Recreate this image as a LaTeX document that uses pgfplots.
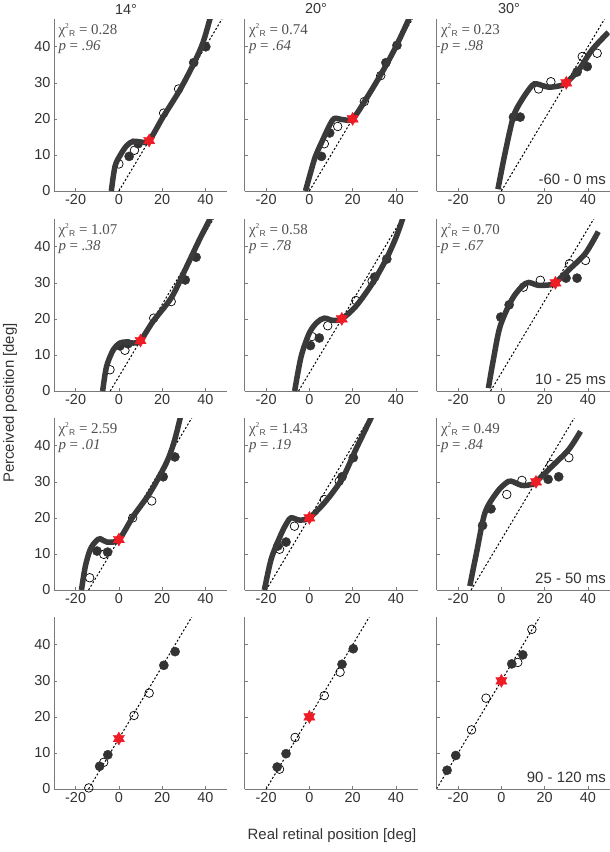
\documentclass[border=0pt]{standalone}
\usepackage{fontspec}
\setmainfont{Liberation Sans}
\setsansfont{Liberation Sans}
\newfontfamily\serif{Liberation Serif}
\usepackage{pgfplots}
\pgfplotsset{compat=1.18}
\definecolor{curvec}{HTML}{3A3A3A}
\definecolor{ptc}{HTML}{333333}
\definecolor{axgray}{HTML}{7A7A7A}
\definecolor{txt}{HTML}{333333}
\definecolor{statc}{HTML}{505050}
\definecolor{starred}{HTML}{EE1C25}
\pgfplotsset{
  panel/.style={
    width=173bp, height=172bp, scale only axis,
    xmin=-30, xmax=50, ymin=0, ymax=47.7,
    axis x line*=bottom, axis y line*=left,
    axis line style={-, axgray, line width=0.8bp},
    tick align=inside, major tick length=3bp,
    tick style={axgray, line width=0.6bp},
    xtick={-20,0,20,40}, xticklabels={-20,0,20,40},
    ytick={0,10,20,30,40},
    tick label style={font=\fontsize{14.5}{14.5}\selectfont, text=txt},
    clip mode=individual,
    anchor=north west,
  },
  lefty/.style={yticklabels={0,10,20,30,40}},
  noy/.style={yticklabels={}},
  curv/.style={curvec, line width=5.5bp, smooth, no markers},
  idl/.style={black, line width=1bp, dash pattern=on 2bp off 2bp, no markers},
  opn/.style={only marks, mark=o, mark size=4.3bp, mark options={black, line width=0.7bp}},
  fld/.style={only marks, mark=*, mark size=4.6bp, mark options={ptc, fill=ptc}},
}
\newcommand{\stats}[2]{%
  \node[anchor=north west, inner sep=0pt, text=statc,
    font=\serif\fontsize{15}{15}\selectfont] (s1) at (rel axis cs:0.025,0.975)
    {χ\raisebox{0.85ex}{\fontsize{7.5}{7.5}\selectfont 2}\kern0.3bp\raisebox{-0.35ex}{\sffamily\fontsize{8.5}{8.5}\selectfont R} = #1};
  \node[anchor=north west, inner sep=0pt, text=statc,
    font=\serif\fontsize{15}{15}\selectfont] at ([yshift=-3bp]s1.south west)
    {\textit{p} = \textit{#2}};}
\newcommand{\ms}[1]{\node[anchor=base east, inner sep=0pt, text=txt,
  font=\fontsize{15}{15}\selectfont] at (rel axis cs:0.98,0.035) {#1};}
\newcommand{\starmark}[2]{%
  \addplot[only marks, mark=triangle*, mark size=6.5bp, mark options={starred, fill=starred}] coordinates {(#1,#2)};
  \addplot[only marks, mark=triangle*, mark size=6.5bp, mark options={starred, fill=starred, rotate=180}] coordinates {(#1,#2)};}
\begin{document}
\begin{tikzpicture}
\useasboundingbox (0,0) rectangle (610bp,-852bp);
% ---------- Row 1 ----------
\begin{axis}[panel, lefty, at={(54bp,-19bp)}]
\addplot[idl] coordinates {(0,0) (47.7,47.7)};
\addplot[opn] coordinates {(0,7.5) (7.2,11.3) (20.7,21.6) (27.6,28.3)};
\addplot[fld] coordinates {(4.75,9.6) (8.9,13.1) (34.6,35.6) (40.2,40)};
\addplot[curv] coordinates {(-3.5,0) (-1.8,6.8) (0.5,9.8) (3.5,12.5) (6.6,13.8) (10,13.6) (14,14) (20.4,20.5) (28,27.8) (34.6,35.3) (38.8,41) (42.1,47.7) (42.8,49.5)};
\starmark{14}{14}
\stats{0.28}{.96}
\end{axis}
\begin{axis}[panel, noy, at={(244.5bp,-19bp)}]
\addplot[idl] coordinates {(0,0) (47.7,47.7)};
\addplot[opn] coordinates {(6.9,13.1) (13.1,17.9) (25.4,24.8) (33,32)};
\addplot[fld] coordinates {(5.6,9.6) (9.4,16.1) (35.4,35.6) (40.5,40.4)};
\addplot[curv] coordinates {(-1.8,0) (0.5,5) (2.8,9.6) (6.2,14.2) (9,17.8) (11.5,20.1) (15.4,19.8) (20,20) (26,25.3) (33.8,33.1) (40,40) (46,47.7) (47,49.5)};
\starmark{20}{20}
\stats{0.74}{.64}
\end{axis}
\begin{axis}[panel, noy, at={(436.5bp,-19bp)}]
\addplot[idl] coordinates {(0,0) (47.7,47.7)};
\addplot[opn] coordinates {(17.2,28.3) (22.9,30.3) (37.4,37.3) (44.3,38.2)};
\addplot[fld] coordinates {(5.6,20.5) (8.7,20.5) (35,33) (39.7,34.5)};
\addplot[curv] coordinates {(-1.6,0.5) (1.7,10.5) (5.6,20.7) (9.5,25.3) (14.1,29.2) (16.4,29.7) (21.9,28.8) (28,29.3) (30,30) (35.8,33.6) (42,39.2) (49.5,44)};
\starmark{30}{30}
\stats{0.23}{.98}
\ms{-60 - 0 ms}
\end{axis}
% ---------- Row 2 ----------
\begin{axis}[panel, lefty, at={(54bp,-219bp)}]
\addplot[idl] coordinates {(-4,0) (43.7,47.7)};
\addplot[opn] coordinates {(-4.1,5.9) (2.8,11.3) (16.1,20.2) (24.2,24.8)};
\addplot[fld] coordinates {(0.5,12.5) (4.2,13.1) (30.7,30.8) (35.7,37.1)};
\addplot[curv] coordinates {(-7.5,0) (-5.7,6.8) (-2.6,11.4) (0.5,13.3) (3.5,13.6) (6.6,13.3) (10,14) (15.8,19.3) (24.2,25.8) (30.3,33.2) (37.2,41.9) (42.1,47.7) (43,49.5)};
\starmark{10}{14}
\stats{1.07}{.38}
\end{axis}
\begin{axis}[panel, noy, at={(244.5bp,-219bp)}]
\addplot[idl] coordinates {(-5,0) (42.7,47.7)};
\addplot[opn] coordinates {(1.2,15.1) (8.5,18.1) (21.5,25.1) (29,30.5)};
\addplot[fld] coordinates {(0.5,12.6) (4.6,14.7) (30.2,31.6) (35.8,36.6)};
\addplot[curv] coordinates {(-6.8,0) (-3.8,9.6) (0,16.1) (3.5,19) (6.9,20.2) (10.8,19.6) (15,20) (21.5,23.5) (29.2,29.9) (35.4,36.4) (40,42.5) (43,47.5) (44,49.5)};
\starmark{15}{20}
\stats{0.58}{.78}
\end{axis}
\begin{axis}[panel, noy, at={(436.5bp,-219bp)}]
\addplot[idl] coordinates {(-5,0) (42.7,47.7)};
\addplot[opn] coordinates {(10.2,28.8) (18,30.7) (31.5,35.3) (38.9,36.2)};
\addplot[fld] coordinates {(-0.3,20.5) (3.6,23.9) (29.9,31.3) (35,31.3)};
\addplot[curv] coordinates {(-6,0.8) (-3.7,8.7) (-0.6,17.9) (4.8,25.3) (9.5,29) (12.6,30.1) (17.2,29.3) (23.4,29.5) (25,30) (31.2,33.6) (38.9,38.2) (44.8,44.2)};
\starmark{25}{30}
\stats{0.70}{.67}
\ms{10 - 25 ms}
\end{axis}
% ---------- Row 3 ----------
\begin{axis}[panel, lefty, at={(54bp,-418bp)}]
\addplot[idl] coordinates {(-14,0) (33.7,47.7)};
\addplot[opn] coordinates {(-13.5,3.4) (-7,9.9) (6.4,20) (15.2,24.7)};
\addplot[fld] coordinates {(-10.1,10.8) (-5.2,10.5) (20.5,31.4) (25.9,36.9)};
\addplot[curv] coordinates {(-17.3,0) (-15.5,6.6) (-13.2,11.3) (-10.5,13.6) (-8.6,14.2) (-5.5,13.3) (0,14) (6.7,20.5) (14.4,27) (22,35.3) (25.5,41) (28.2,47.3) (29,49.5)};
\starmark{0}{14}
\stats{2.59}{.01}
\end{axis}
\begin{axis}[panel, noy, at={(244.5bp,-418bp)}]
\addplot[idl] coordinates {(-20,0) (27.7,47.7)};
\addplot[opn] coordinates {(-13.8,11.3) (-6.9,17.7) (6.9,25.1) (13.8,30.2)};
\addplot[fld] coordinates {(-14.6,12.2) (-10.8,13.3) (15.1,31.4) (20.3,36.7)};
\addplot[curv] coordinates {(-20.8,0) (-17.7,8.5) (-13.8,14.5) (-11,18) (-8.5,20) (-4.6,19.4) (0,20) (7.7,24.7) (15.4,31.1) (21.5,39) (28.5,47.7) (29,48.5)};
\starmark{0}{20}
\stats{1.43}{.19}
\end{axis}
\begin{axis}[panel, noy, at={(436.5bp,-418bp)}]
\addplot[idl] coordinates {(-14,0) (33.7,47.7)};
\addplot[opn] coordinates {(2.5,26.5) (9.5,30.4) (22.9,34.8) (31.2,36.7)};
\addplot[fld] coordinates {(-8.7,17.9) (-4.8,22.5) (21.6,30.7) (26.5,31.4)};
\addplot[curv] coordinates {(-14.6,1.1) (-11.5,10.3) (-7.6,21.4) (-2.2,27) (2,29.6) (4.5,30.2) (9.5,29) (14.1,29.3) (16,30) (23.4,34.3) (31.2,39) (36.6,44)};
\starmark{16}{30}
\stats{0.49}{.84}
\ms{25 - 50 ms}
\end{axis}
% ---------- Row 4 ----------
\begin{axis}[panel, lefty, at={(54bp,-617bp)}]
\addplot[idl] coordinates {(-14,0) (33.7,47.7)};
\addplot[opn] coordinates {(-13.9,0.3) (-7,7.4) (7,20.4) (14,26.6)};
\addplot[fld] coordinates {(-8.9,6.3) (-5.1,9.5) (20.8,34.3) (26,38.1)};
\starmark{0}{14}
\end{axis}
\begin{axis}[panel, noy, at={(244.5bp,-617bp)}]
\addplot[idl] coordinates {(-20,0) (27.7,47.7)};
\addplot[opn] coordinates {(-13.8,5.5) (-6.6,14.3) (6.9,25.9) (14.2,32.4)};
\addplot[fld] coordinates {(-14.9,6.1) (-10.8,9.8) (15.1,34.6) (20.3,38.9)};
\starmark{0}{20}
\end{axis}
\begin{axis}[panel, noy, at={(436.5bp,-617bp)}]
\addplot[idl] coordinates {(-30,0) (17.7,47.7)};
\addplot[opn] coordinates {(-13.8,16.4) (-7.1,25.2) (7.6,35.1) (14.1,44.3)};
\addplot[fld] coordinates {(-25.1,5.2) (-21.1,9.3) (4.8,34.7) (9.9,37.2)};
\starmark{0}{30}
\ms{90 - 120 ms}
\end{axis}
% ---------- labels ----------
\node[text=txt, font=\fontsize{14.5}{14.5}\selectfont] at (126bp,-9bp) {14°};
\node[text=txt, font=\fontsize{14.5}{14.5}\selectfont] at (316bp,-9bp) {20°};
\node[text=txt, font=\fontsize{14.5}{14.5}\selectfont] at (509bp,-9bp) {30°};
\node[rotate=90, text=txt, font=\fontsize{15}{15}\selectfont] at (10bp,-403bp) {Perceived position [deg]};
\node[text=txt, font=\fontsize{15}{15}\selectfont] at (332bp,-836bp) {Real retinal position [deg]};
\end{tikzpicture}
\end{document}
